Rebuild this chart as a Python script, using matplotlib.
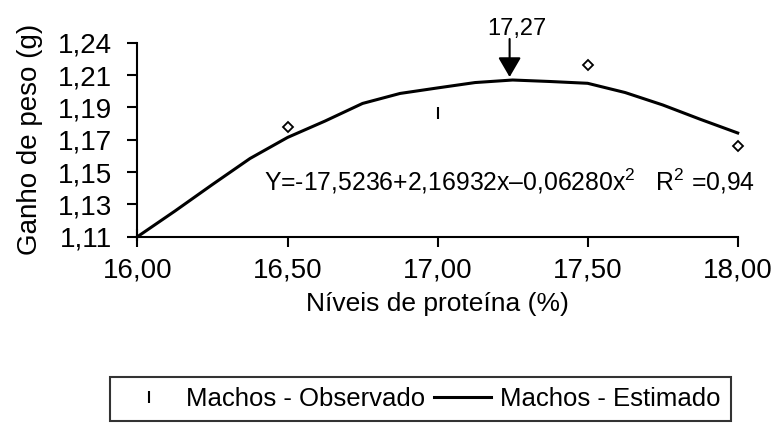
import matplotlib
matplotlib.use("Agg")
import matplotlib.pyplot as plt
from matplotlib.lines import Line2D
import numpy as np

plt.rcParams['font.family'] = ['Liberation Sans', 'DejaVu Sans']
plt.rcParams['mathtext.fontset'] = 'custom'
plt.rcParams['mathtext.rm'] = 'Liberation Sans'
plt.rcParams['mathtext.it'] = 'Liberation Sans'

# Observed points (Machos - Observado)
obs_x = [16.0, 16.5, 17.0, 17.5, 18.0]
obs_y = [1.111, 1.1833, 1.1931, 1.2251, 1.1708]
obs_markers = ['|', 'D', '|', 'D', 'D']

# Estimated curve (Machos - Estimado)
est_x = [16.0, 16.125, 16.25, 16.375, 16.5, 16.625, 16.75, 16.875, 17.0,
         17.125, 17.25, 17.375, 17.5, 17.625, 17.75, 17.875, 18.0]
est_y = [1.110, 1.1272, 1.145, 1.1624, 1.1765, 1.1875, 1.1993, 1.206, 1.2097,
         1.2133, 1.215, 1.214, 1.2128, 1.2066, 1.1983, 1.1887, 1.1795]

x_ticks = [16.0, 16.5, 17.0, 17.5, 18.0]
x_ticklabels = ['16,00', '16,50', '17,00', '17,50', '18,00']
y_ticklabels = ['1,11', '1,13', '1,15', '1,17', '1,19', '1,21', '1,24']
y_min, y_max = 1.11, 1.24

peak_x = 17.24
peak_label = '17,27'
equation = 'Y=-17,5236+2,16932x\u20130,06280x$^{2}$   R$^{2}$ =0,94'

fig = plt.figure(figsize=(7.78, 4.25), dpi=100)
ax = fig.add_axes([0.1767, 0.4431, 0.9482 - 0.1767, 0.8995 - 0.4431])

ax.plot(est_x, est_y, color='black', lw=2.2, zorder=3, clip_on=False)
for xv, yv, m in zip(obs_x, obs_y, obs_markers):
    if m == 'D':
        ax.plot([xv], [yv], marker='D', ms=5.5, mfc='white', mec='black', mew=1.3,
                ls='none', zorder=4, clip_on=False)
    else:
        ax.plot([xv], [yv], marker='|', ms=9, mec='black', mew=1.5,
                ls='none', zorder=4, clip_on=False)

ax.set_xlim(16.0, 18.0)
ax.set_ylim(y_min, y_max)
ax.set_xticks(x_ticks)
ax.set_xticklabels(x_ticklabels)
ax.set_yticks(np.linspace(y_min, y_max, len(y_ticklabels)))
ax.set_yticklabels(y_ticklabels)

for s in ['top', 'right']:
    ax.spines[s].set_visible(False)
for s in ['left', 'bottom']:
    ax.spines[s].set_linewidth(1.5)
ax.tick_params(axis='both', direction='out', length=7.2, width=1.5,
               labelsize=20)
ax.tick_params(axis='y', pad=11)
ax.tick_params(axis='x', pad=8)

ax.set_xlabel('N\u00edveis de prote\u00edna (%)', fontsize=19, labelpad=6)
ax.set_ylabel('Ganho de peso (g)', fontsize=20, labelpad=11)

ax.text(0.211, 0.24, equation, transform=ax.transAxes, fontsize=17.8,
        ha='left', va='baseline')

ax.annotate('', xy=(peak_x, 1.217), xytext=(peak_x, 1.2425),
            arrowprops=dict(arrowstyle='-|>,head_length=1.2,head_width=0.7',
                            color='black', lw=1.5, shrinkA=0, shrinkB=0),
            annotation_clip=False)
ax.text(17.265, 1.2495, peak_label, fontsize=17, ha='center', va='center')

handles = [Line2D([], [], marker='|', ms=9, mew=1.5, color='black', ls='none'),
           Line2D([], [], color='black', lw=2.2)]
leg = fig.legend(handles, ['Machos - Observado', 'Machos - Estimado'],
                 loc='center', bbox_to_anchor=(0.5405, 0.0612), ncol=2,
                 fontsize=18.5, frameon=True, fancybox=False,
                 handlelength=2.2, handletextpad=0.35, columnspacing=0.35,
                 borderpad=0.4, borderaxespad=0)
leg.get_frame().set_edgecolor('black')
leg.get_frame().set_linewidth(1.5)

fig.savefig('out.png', dpi=100)
